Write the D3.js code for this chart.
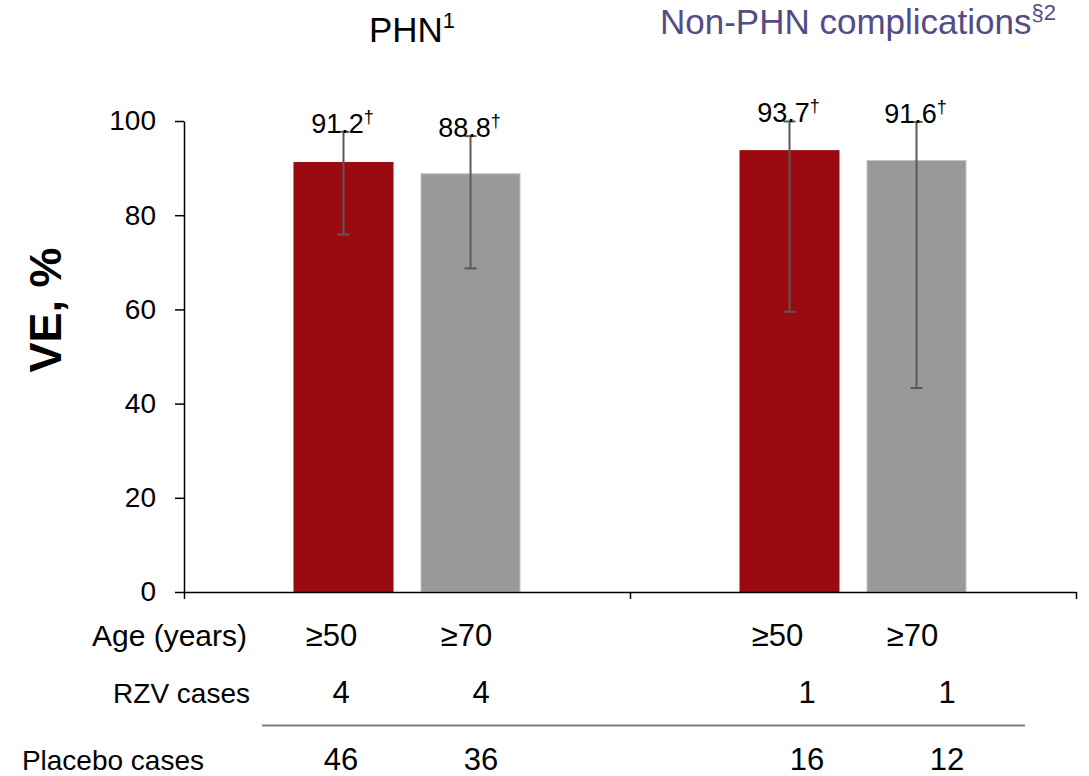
<!DOCTYPE html>
<html>
<head>
<meta charset="utf-8">
<script src="https://cdn.jsdelivr.net/npm/d3@7"></script>
<style>
  html, body { margin: 0; padding: 0; background: #fff; }
  svg { display: block; font-family: "Liberation Sans", Arial, Helvetica, sans-serif; }
</style>
</head>
<body>
<svg id="chart" width="1089" height="776"></svg>
<script>
// ---- data ----
const categories = ["PHN", "Non-PHN complications"];
const titleSup = ["1", "§2"];
const ageGroups = ["≥50", "≥70"];
const ve50 = [91.2, 93.7];
const ve70 = [88.8, 91.6];
const ciLow50 = [75.9, 59.5];
const ciHigh50 = [97.7, 99.9];
const ciLow70 = [68.7, 43.3];
const ciHigh70 = [96.8, 99.8];
const rzvCases50 = [4, 1];
const rzvCases70 = [4, 1];
const placeboCases50 = [46, 16];
const placeboCases70 = [36, 12];
const yTicks = [0, 20, 40, 60, 80, 100];
const rowLabels = ["Age (years)", "RZV cases", "Placebo cases"];

// ---- build rows ----
const bars = [];
categories.forEach((c, i) => {
  bars.push({cat: c, ci: i, age: ageGroups[0], ai: 0, v: ve50[i], lo: ciLow50[i], hi: ciHigh50[i], rzv: rzvCases50[i], pbo: placeboCases50[i]});
  bars.push({cat: c, ci: i, age: ageGroups[1], ai: 1, v: ve70[i], lo: ciLow70[i], hi: ciHigh70[i], rzv: rzvCases70[i], pbo: placeboCases70[i]});
});

const svg = d3.select("#chart");
const mLeft = 184, mRight = 1076, mTop = 121, mBottom = 592;

const x0 = d3.scaleBand().domain(categories).range([mLeft, mRight]).paddingInner(0).paddingOuter(0);
const bw = x0.bandwidth();
const x1 = d3.scaleBand().domain(ageGroups).range([bw * 0.2455, bw * 0.7545]).paddingInner(0.2126).paddingOuter(0);
const y = d3.scaleLinear().domain([0, 100]).range([mBottom, mTop]);
const color = d3.scaleOrdinal().domain(ageGroups).range(["#9b0a10", "#999999"]);
const stroke = d3.scaleOrdinal().domain(ageGroups).range(["#9b0a10", "#c4c4c4"]);

const cx = d => x0(d.cat) + x1(d.age) + x1.bandwidth() / 2;
const gc = d => x0(d.cat) + bw / 2;

// bars
svg.append("g").selectAll("rect").data(bars).join("rect")
  .attr("x", d => x0(d.cat) + x1(d.age) + 0.5)
  .attr("y", d => y(d.v))
  .attr("width", x1.bandwidth() - 1)
  .attr("height", d => y(0) - y(d.v))
  .attr("fill", d => color(d.age))
  .attr("stroke", d => stroke(d.age))
  .attr("stroke-width", 1);

// error bars
const eb = svg.append("g").attr("stroke", "#595959").attr("stroke-width", 2);
eb.selectAll("line.v").data(bars).join("line").attr("class", "v")
  .attr("x1", cx).attr("x2", cx)
  .attr("y1", d => y(d.lo)).attr("y2", d => y(d.hi));
eb.selectAll("line.h").data(bars).join("line").attr("class", "h")
  .attr("x1", d => cx(d) - 6).attr("x2", d => cx(d) + 6)
  .attr("y1", d => y(d.hi)).attr("y2", d => y(d.hi));
eb.selectAll("line.l").data(bars).join("line").attr("class", "l")
  .attr("x1", d => cx(d) - 6).attr("x2", d => cx(d) + 6)
  .attr("y1", d => y(d.lo)).attr("y2", d => y(d.lo));

// value labels
const vl = svg.append("g").selectAll("text").data(bars).join("text")
  .attr("x", d => cx(d) - 1)
  .attr("y", d => y(d.hi) + 1)
  .attr("text-anchor", "middle")
  .attr("font-size", 27)
  .attr("fill", "#000");
vl.append("tspan").text(d => d.v.toFixed(1));
vl.append("tspan").attr("font-size", 18).attr("dy", -10).text("†");

// y axis
const yAxis = svg.append("g").attr("transform", `translate(${mLeft},0)`)
  .call(d3.axisLeft(y).tickValues(yTicks).tickSize(9).tickSizeOuter(0).tickPadding(19));
yAxis.selectAll("text").attr("font-size", 28).attr("fill", "#000").attr("font-family", "Liberation Sans, Arial, sans-serif");
yAxis.selectAll("line, path").attr("stroke", "#000").attr("stroke-width", 1.5);

// x axis with boundary ticks
const xb = d3.scaleLinear().domain([0, categories.length]).range([mLeft, mRight]);
const xAxis = svg.append("g").attr("transform", `translate(0,${mBottom})`)
  .call(d3.axisBottom(xb).tickValues(d3.range(categories.length + 1)).tickSize(7).tickSizeOuter(0).tickFormat(""));
xAxis.selectAll("line, path").attr("stroke", "#000").attr("stroke-width", 1.5);

// y title
svg.append("text")
  .attr("transform", `translate(61,310) rotate(-90)`)
  .attr("text-anchor", "middle")
  .attr("font-size", 45)
  .attr("font-weight", "bold")
  .attr("fill", "#000")
  .text("VE, %");

// category titles
const titleColors = ["#000000", "#534c86"];
const titleY = [42, 34];
const tt = svg.append("g").selectAll("text").data(categories).join("text")
  .attr("x", d => x0(d) + bw / 2 + 5)
  .attr("y", (d, i) => titleY[i])
  .attr("text-anchor", "middle")
  .attr("font-size", 35)
  .attr("fill", (d, i) => titleColors[i]);
tt.append("tspan").text(d => d);
tt.append("tspan").attr("font-size", 22).attr("dy", -14).text((d, i) => titleSup[i]);

// table
const rowY = [646, 703, 770];
const rowLabelX = [247, 250, 204];
const rowLabelSize = [30, 28, 28];
svg.append("g").selectAll("text").data(rowLabels).join("text")
  .attr("x", (d, i) => rowLabelX[i])
  .attr("y", (d, i) => rowY[i])
  .attr("text-anchor", "end")
  .attr("font-size", (d, i) => rowLabelSize[i])
  .attr("fill", "#000")
  .text(d => d);

const tbl = svg.append("g").attr("font-size", 31).attr("fill", "#000").attr("text-anchor", "middle");
tbl.selectAll("text.age").data(bars).join("text").attr("class", "age")
  .attr("x", d => gc(d) - 8 + (d.ai - 0.5) * 135).attr("y", rowY[0]).text(d => d.age);
const countX = d => gc(d) + 4 + d.ci * 20 + (d.ai - 0.5) * 140;
tbl.selectAll("text.rzv").data(bars).join("text").attr("class", "rzv")
  .attr("x", countX).attr("y", rowY[1]).text(d => d.rzv);
tbl.selectAll("text.pbo").data(bars).join("text").attr("class", "pbo")
  .attr("x", countX).attr("y", rowY[2]).text(d => d.pbo);

// separator line
svg.append("line")
  .attr("x1", 262).attr("x2", 1025)
  .attr("y1", 725.5).attr("y2", 725.5)
  .attr("stroke", "#808080").attr("stroke-width", 2);
</script>
</body>
</html>
